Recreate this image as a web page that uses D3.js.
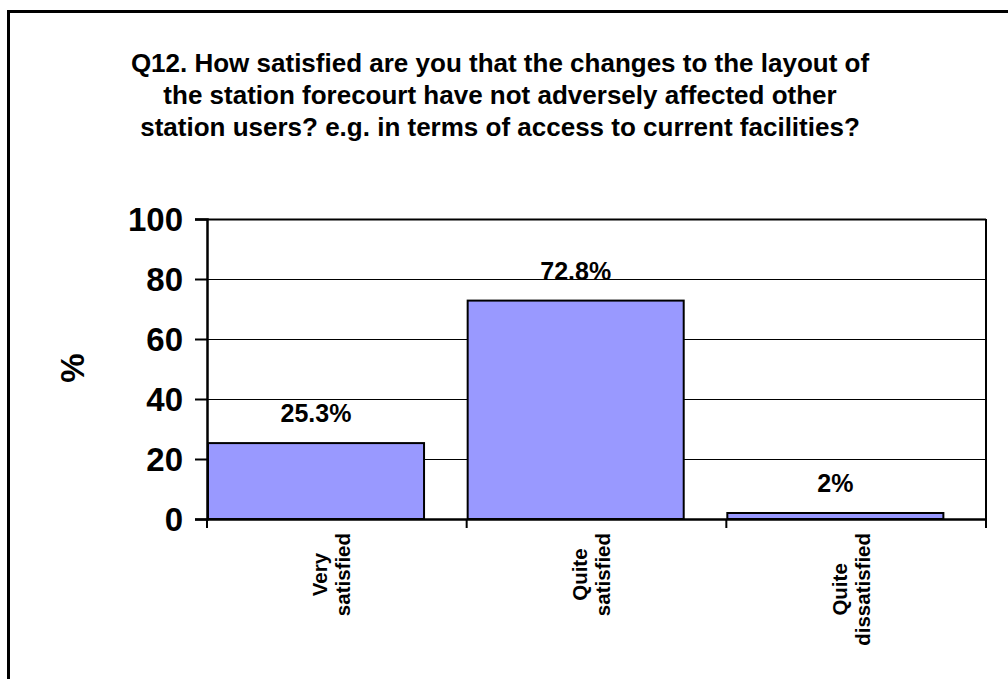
<!DOCTYPE html>
<html>
<head>
<meta charset="utf-8">
<script src="https://cdn.jsdelivr.net/npm/d3@7"></script>
<style>
  html, body { margin: 0; padding: 0; background: #fff; }
  svg { display: block; font-family: "Liberation Sans", Arial, sans-serif; }
</style>
</head>
<body>
<svg id="chart" width="1008" height="679"></svg>
<script>
// Survey responses (percent of respondents)
const titleLines = [
  "Q12. How satisfied are you that the changes to the layout of",
  "the station forecourt have not adversely affected other",
  "station users? e.g. in terms of access to current facilities?"
];
const categories = ["Very satisfied", "Quite satisfied", "Quite dissatisfied"];
const categoryLines = [["Very", "satisfied"], ["Quite", "satisfied"], ["Quite", "dissatisfied"]];
const values = [25.3, 72.8, 2];
const valueLabels = ["25.3%", "72.8%", "2%"];
const yTicks = [0, 20, 40, 60, 80, 100];
const yTitle = "%";

const svg = d3.select("#chart");

// Outer frame (runs past the right and bottom edges)
svg.append("rect")
  .attr("x", 8.5).attr("y", 11.5)
  .attr("width", 1100).attr("height", 800)
  .attr("fill", "none").attr("stroke", "#000").attr("stroke-width", 3);

// Title
svg.append("g").selectAll("text")
  .data(titleLines)
  .join("text")
  .attr("x", 500)
  .attr("y", (d, i) => 72 + i * 32)
  .attr("text-anchor", "middle")
  .attr("font-weight", "bold")
  .attr("font-size", 26)
  .text(d => d);

const plot = { left: 207, right: 986, top: 219, bottom: 519 };

const y = d3.scaleLinear().domain([0, 100]).range([plot.bottom, plot.top]);
const x = d3.scaleBand().domain(categories).range([plot.left, plot.right]).paddingInner(0).paddingOuter(0);
const barWidth = x.bandwidth() * 0.832;

// Horizontal gridlines
svg.append("g").selectAll("line")
  .data(yTicks.filter(t => t > 0))
  .join("line")
  .attr("x1", plot.left).attr("x2", plot.right)
  .attr("y1", d => Math.round(y(d)) + 0.5).attr("y2", d => Math.round(y(d)) + 0.5)
  .attr("stroke", "#000").attr("stroke-width", d => d === 100 ? 2 : 1.2);

// Right border of the plot area
svg.append("line")
  .attr("x1", plot.right).attr("x2", plot.right)
  .attr("y1", plot.top).attr("y2", plot.bottom)
  .attr("stroke", "#000").attr("stroke-width", 2);

// Bars
svg.append("g").selectAll("rect")
  .data(values)
  .join("rect")
  .attr("x", (d, i) => x(categories[i]) + 1)
  .attr("y", d => y(d))
  .attr("width", barWidth)
  .attr("height", d => y(0) - y(d))
  .attr("fill", "#9999FF")
  .attr("stroke", "#000").attr("stroke-width", 2);

// Value labels above bars
svg.append("g").selectAll("text")
  .data(values)
  .join("text")
  .attr("x", (d, i) => x(categories[i]) + 1 + barWidth / 2)
  .attr("y", d => y(d) - 21)
  .attr("text-anchor", "middle")
  .attr("font-weight", "bold")
  .attr("font-size", 25)
  .text((d, i) => valueLabels[i]);

// Y axis
const yAxis = d3.axisLeft(y).tickValues(yTicks).tickSize(12).tickPadding(12);
const yg = svg.append("g").attr("transform", `translate(${plot.left},0)`).call(yAxis);
yg.select(".domain").attr("stroke", "#000").attr("stroke-width", 2.5);
yg.selectAll(".tick line").attr("stroke", "#000").attr("stroke-width", 2);
yg.selectAll(".tick text")
  .attr("font-family", "Liberation Sans, Arial, sans-serif")
  .attr("font-weight", "bold").attr("font-size", 33).attr("fill", "#000")
  .attr("dy", "0.36em");

// X axis
const xAxis = d3.axisBottom(x).tickValues([]).tickSizeOuter(0);
const xg = svg.append("g").attr("transform", `translate(0,${plot.bottom})`).call(xAxis);
xg.select(".domain").attr("stroke", "#000").attr("stroke-width", 2.5);
xg.append("g").selectAll("line")
  .data(categories.concat([null]))
  .join("line")
  .attr("x1", d => d === null ? plot.right : x(d))
  .attr("x2", d => d === null ? plot.right : x(d))
  .attr("y1", 0).attr("y2", 9)
  .attr("stroke", "#000").attr("stroke-width", 2);

// Category labels, rotated, each line centered on the longest line
const catG = svg.append("g");
categoryLines.forEach((lines, i) => {
  const cx = x(categories[i]) + x.bandwidth() / 2;
  const g = catG.append("g");
  const texts = g.selectAll("text")
    .data(lines)
    .join("text")
    .attr("font-weight", "bold")
    .attr("font-size", 20.5)
    .attr("text-anchor", "middle")
    .text(d => d);
  let maxLen = 0;
  texts.each(function() { maxLen = Math.max(maxLen, this.getComputedTextLength()); });
  const cy = 533 + maxLen / 2;
  const lineGap = 23;
  texts.attr("transform", (d, j) => {
    const lx = cx + (j - (lines.length - 1) / 2) * lineGap + 2;
    return `translate(${lx},${cy}) rotate(-90)`;
  });
});

// Y axis title
svg.append("text")
  .attr("transform", "translate(84,368) rotate(-90)")
  .attr("text-anchor", "middle")
  .attr("font-weight", "bold")
  .attr("font-size", 33)
  .text(yTitle);
</script>
</body>
</html>
